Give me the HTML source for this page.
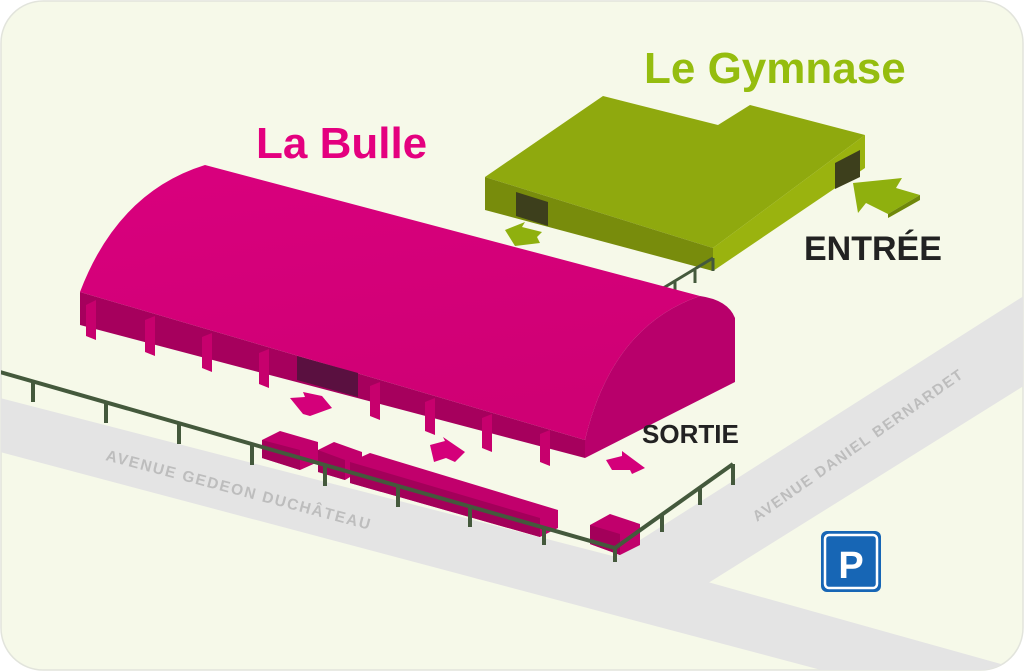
<!DOCTYPE html>
<html><head><meta charset="utf-8"><style>
html,body{margin:0;padding:0;background:#fff;}
svg{display:block;}
text{font-family:"Liberation Sans",sans-serif;font-weight:bold;}
</style></head><body>
<svg width="1024" height="671" viewBox="0 0 1024 671" xmlns="http://www.w3.org/2000/svg">
<defs>
<clipPath id="c"><rect x="1" y="1" width="1022" height="669" rx="42"/></clipPath>
<linearGradient id="roof" x1="0" y1="0" x2="0.3" y2="1">
<stop offset="0" stop-color="#d9007e"/><stop offset="1" stop-color="#cf0074"/></linearGradient>
</defs>
<rect x="1" y="1" width="1022" height="669" rx="42" fill="#f6f9e9" stroke="#e2e4dc" stroke-width="1.5"/>
<g clip-path="url(#c)">
<polygon points="0,398 640,563 1040,675 840,675 0,452" fill="#e4e4e4"/>
<polygon points="615,556 1030,292 1030,382 705,585" fill="#e4e4e4"/>
<polygon points="610,560 705,585 640,600" fill="#e4e4e4"/>
<text transform="translate(105,460) rotate(14.8)" font-size="15.5" fill="#bdbdbd" letter-spacing="1.6">AVENUE GEDEON DUCHÂTEAU</text>
<text transform="translate(757,522) rotate(-35)" font-size="15" fill="#bdbdbd" letter-spacing="1.5">AVENUE DANIEL BERNARDET</text>

<polygon points="485,177 603,96 718,125 750,105 865,135 713,248" fill="#8fa90e"/>
<polygon points="485,177 713,248 713,271 485,210" fill="#788c0c"/>
<polygon points="713,248 865,135 865,168 713,271" fill="#9ab30f"/>
<polygon points="516,192 548,202 548,226 516,216" fill="#3d3f1c"/>
<polygon points="835,163 860,150 860,177 835,189" fill="#3d3f1c"/>
<polygon points="505,230 525,222 522,227 542,232 537,237 540,243 515,246" fill="#8fb00e"/>
<polygon points="853,183 902,178 896,188 920,195 888,214 866,203 858,213" fill="#8fb00e"/>
<polygon points="920,195 920,200 888,218 888,214" fill="#6f880a"/>

<g stroke="#44593c" stroke-width="3" fill="none">
<line x1="655" y1="293" x2="713" y2="258"/>
<line x1="675" y1="282" x2="675" y2="295"/><line x1="695" y1="270" x2="695" y2="283"/>
<line x1="713" y1="258" x2="713" y2="271"/>
</g>

<path d="M80,292 Q118,192 205,165 L700,296 Q612,326 585,440 Z" fill="url(#roof)"/>
<path d="M585,440 Q612,326 700,296 Q728,300 735,318 L735,382 L585,458 Z" fill="#b8006b"/>
<polygon points="80,292 585,440 585,458 80,325" fill="#a6005d"/>
<g fill="#c7006d">
<polygon points="86,305 96,300 96,340 86,336"/>
<polygon points="145,320 155,316 155,356 145,352"/>
<polygon points="202,337 212,333 212,372 202,368"/>
<polygon points="259,353 269,349 269,388 259,384"/>
<polygon points="370,386 380,382 380,420 370,416"/>
<polygon points="425,402 435,398 435,435 425,431"/>
<polygon points="482,418 492,414 492,452 482,448"/>
<polygon points="540,434 550,430 550,466 540,462"/>
</g>
<polygon points="297,356 358,373 358,397 297,380" fill="#5a1040"/>
<polygon points="290,398 305,397 303,392 322,396 332,408 310,416 303,414" fill="#d4007a"/>
<polygon points="430,445 445,441 443,437 465,452 455,462 446,458 434,462" fill="#d4007a"/>
<polygon points="606,460 622,456 622,451 645,468 632,474 630,470 612,470" fill="#d4007a"/>

<g>
<polygon points="262,440 280,431 318,442 318,462 300,470 262,458" fill="#c1006c"/>
<polygon points="262,440 300,450 300,470 262,458" fill="#a3005a"/>
<polygon points="318,450 334,442 362,452 362,470 345,480 318,472" fill="#c1006c"/>
<polygon points="318,450 345,460 345,480 318,472" fill="#a3005a"/>
<polygon points="350,462 370,453 558,510 558,528 540,537 350,483" fill="#c1006c"/>
<polygon points="350,462 540,518 540,537 350,483" fill="#a3005a"/>
<polygon points="590,525 610,514 640,524 640,545 620,555 590,544" fill="#c1006c"/>
<polygon points="590,525 620,534 620,555 590,544" fill="#a3005a"/>
</g>

<g stroke="#44593c" stroke-width="4" fill="none">
<polyline points="0,372 615,548 733,464"/>
<line x1="33" y1="381" x2="33" y2="402"/><line x1="106" y1="402" x2="106" y2="423"/>
<line x1="179" y1="423" x2="179" y2="444"/><line x1="252" y1="444" x2="252" y2="465"/>
<line x1="325" y1="465" x2="325" y2="486"/><line x1="398" y1="486" x2="398" y2="507"/>
<line x1="470" y1="507" x2="470" y2="527"/><line x1="544" y1="528" x2="544" y2="545"/>
<line x1="615" y1="548" x2="615" y2="562"/><line x1="662" y1="515" x2="662" y2="532"/>
<line x1="700" y1="488" x2="700" y2="505"/><line x1="733" y1="464" x2="733" y2="485"/>
</g>

<rect x="821" y="531" width="60" height="61" rx="6" fill="#1766b5"/>
<rect x="825" y="535" width="52" height="53" rx="4" fill="none" stroke="#fff" stroke-width="2.5"/>
<text x="851" y="578" font-size="38" fill="#fff" text-anchor="middle">P</text>
</g>

<text x="256" y="158" font-size="44" fill="#e4007f">La Bulle</text>
<text x="644" y="83" font-size="44" fill="#95bd0f">Le Gymnase</text>
<text x="804" y="260" font-size="34" fill="#222">ENTRÉE</text>
<text x="642" y="443" font-size="26" fill="#222">SORTIE</text>
</svg>
</body></html>
